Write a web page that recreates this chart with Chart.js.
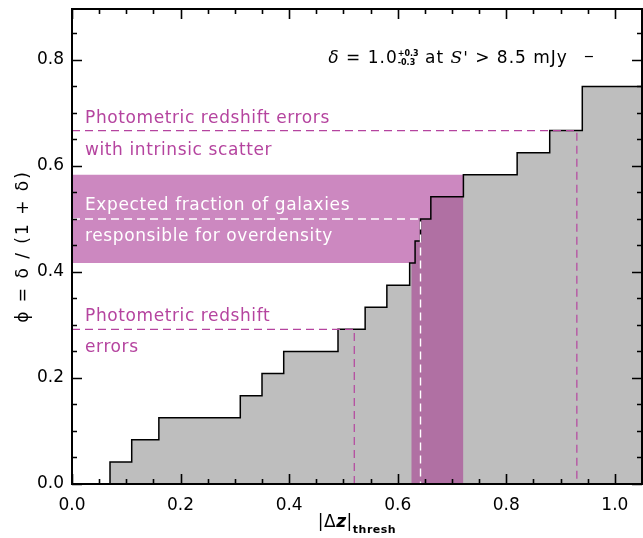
<!DOCTYPE html>
<html><head><meta charset="utf-8">
<script src="https://cdn.jsdelivr.net/npm/chart.js@4/dist/chart.umd.min.js"></script>
<style>html,body{margin:0;padding:0;background:#fff;}#wrap{width:643px;height:538px;}</style>
</head><body><div id="wrap"><canvas id="c" width="643" height="538"></canvas></div>
<script>
// ---- data ----
const stepX   = [0, 0.07, 0.11, 0.16, 0.31, 0.35, 0.39, 0.49, 0.54, 0.58, 0.622, 0.632, 0.642, 0.661, 0.721, 0.82, 0.88, 0.94, 1.05];
const stepPhi = [0, 0.0417, 0.0833, 0.125, 0.1667, 0.2083, 0.25, 0.2917, 0.3333, 0.375, 0.4167, 0.4583, 0.5, 0.5417, 0.5833, 0.625, 0.6667, 0.75, 0.75];
const bandPhi = [0.4167, 0.5833];      // expected fraction of galaxies
const bandX   = [0.625, 0.721];        // corresponding |dz| range
const photErr    = {x: 0.52, phi: 0.2917};
const photScat   = {x: 0.93, phi: 0.6667};
const expected   = {x: 0.642, phi: 0.5};
const xTickValues = [0, 0.2, 0.4, 0.6, 0.8, 1.0];
const xTickLabels = ['0.0', '0.2', '0.4', '0.6', '0.8', '1.0'];
const yTickValues = [0, 0.2, 0.4, 0.6, 0.8];
const yTickLabels = ['0.0', '0.2', '0.4', '0.6', '0.8'];
const xMinorStep = 0.05, yMinorStep = 0.05;
const xRange = [0, 1.05], yRange = [0, 0.896];
const notes = [
  {text: 'Photometric redshift errors', x: 0.024, y: 0.681, c: 'pink'},
  {text: 'with intrinsic scatter', x: 0.024, y: 0.621, c: 'pink'},
  {text: 'Expected fraction of galaxies', x: 0.024, y: 0.516, c: 'white'},
  {text: 'responsible for overdensity', x: 0.024, y: 0.458, c: 'white'},
  {text: 'Photometric redshift', x: 0.024, y: 0.308, c: 'pink'},
  {text: 'errors', x: 0.024, y: 0.249, c: 'pink'}
];
const legendAnchor = {x: 0.472, y: 0.795};

// ---- styles ----
const PINK = '#b5449f', LIGHT = '#cc88c0', DARK = '#b070a3', GREY = '#bebebe';
const FONT = 'DejaVu Sans';

function phiAt(x){ let v = stepPhi[0]; for (let i=0;i<stepX.length;i++){ if (stepX[i] <= x) v = stepPhi[i]; } return v; }
const stepPts = stepX.map((x,i)=>({x, y: stepPhi[i]}));
const bandPts = [{x: bandX[0], y: phiAt(bandX[0])}];
stepX.forEach((x,i)=>{ if (x > bandX[0] && x < bandX[1]) bandPts.push({x, y: stepPhi[i]}); });
bandPts.push({x: bandX[1], y: bandPts[bandPts.length-1].y});
function lShape(o){ return [{x: xRange[0], y: o.phi}, {x: o.x, y: o.phi}, {x: o.x, y: 0}]; }

const decor = {
  id: 'decor',
  afterDraw(chart){
    const ctx = chart.ctx, a = chart.chartArea, xs = chart.scales.x, ys = chart.scales.y;
    ctx.save();
    // frame
    ctx.strokeStyle = '#000'; ctx.lineWidth = 2;
    ctx.strokeRect(a.left, a.top, a.right - a.left, a.bottom - a.top);
    // ticks
    ctx.lineWidth = 1.6;
    ctx.beginPath();
    for (let v = xRange[0]; v <= xRange[1] + 1e-9; v += xMinorStep) {
      const major = Math.abs(v/0.2 - Math.round(v/0.2)) < 1e-6;
      const L = major ? 10 : 5, px = Math.round(xs.getPixelForValue(v)) + 0.5;
      ctx.moveTo(px, a.bottom); ctx.lineTo(px, a.bottom - L);
      ctx.moveTo(px, a.top); ctx.lineTo(px, a.top + L);
    }
    for (let v = yRange[0]; v <= yRange[1] + 1e-9; v += yMinorStep) {
      const major = Math.abs(v/0.2 - Math.round(v/0.2)) < 1e-6;
      const L = major ? 10 : 5, py = Math.round(ys.getPixelForValue(v)) + 0.5;
      ctx.moveTo(a.left, py); ctx.lineTo(a.left + L, py);
      ctx.moveTo(a.right, py); ctx.lineTo(a.right - L, py);
    }
    ctx.stroke();

    // annotations
    const nf = '17px "' + FONT + '"';
    ctx.font = nf;
    ctx.letterSpacing = '0.6px';
    ctx.textBaseline = 'alphabetic'; ctx.textAlign = 'left';
    notes.forEach(n => {
      ctx.fillStyle = n.c === 'pink' ? PINK : '#ffffff';
      ctx.fillText(n.text, xs.getPixelForValue(n.x), ys.getPixelForValue(n.y));
    });

    // legend-like label
    ctx.fillStyle = '#000';
    ctx.letterSpacing = '1px';
    let x = xs.getPixelForValue(legendAnchor.x), y = ys.getPixelForValue(legendAnchor.y);
    const put = (t, f, dy=0) => { ctx.font = f; ctx.fillText(t, x, y + dy); return ctx.measureText(t).width; };
    x += put('δ', 'italic ' + nf);
    x += put(' = 1.0', nf);
    ctx.letterSpacing = '0px';
    const w1 = put('+0.3', 'bold 8px "' + FONT + '"', -7);
    const w2 = put('-0.3', 'bold 8px "' + FONT + '"', 2);
    x += Math.max(w1, w2);
    ctx.letterSpacing = '1px';
    x += put(' at ', nf);
    x += put('S\'', 'italic 17px "DejaVu Serif"');
    x += put(' > 8.5 mJy', nf);
    ctx.lineWidth = 1.2; ctx.strokeStyle = '#000';
    ctx.beginPath(); ctx.moveTo(x + 17, y - 6); ctx.lineTo(x + 25, y - 6); ctx.stroke();

    // y title
    ctx.save();
    ctx.translate(28, (a.top + a.bottom)/2);
    ctx.rotate(-Math.PI/2);
    ctx.font = nf; ctx.textAlign = 'center'; ctx.letterSpacing = '2px';
    ctx.fillText('ϕ = δ / (1 + δ)', 0, 0);
    ctx.restore();

    // x title
    ctx.letterSpacing = '0.5px';
    const p1 = '|Δ', p2 = 'z', p3 = '|', sub = 'thresh';
    const zf = 'bold italic 17px "' + FONT + '"', sf = 'bold 11px "' + FONT + '"';
    ctx.font = nf; const a1 = ctx.measureText(p1).width, a3 = ctx.measureText(p3).width;
    ctx.font = zf; const a2 = ctx.measureText(p2).width;
    ctx.font = sf; const a4 = ctx.measureText(sub).width;
    let tx = (a.left + a.right)/2 - (a1 + a2 + a3 + a4)/2, ty = 527;
    ctx.textAlign = 'left';
    ctx.font = nf; ctx.fillText(p1, tx, ty); tx += a1;
    ctx.font = zf; ctx.fillText(p2, tx, ty); tx += a2;
    ctx.font = nf; ctx.fillText(p3, tx, ty); tx += a3;
    ctx.font = sf; ctx.fillText(sub, tx, ty + 6);
    ctx.restore();
  }
};

new Chart(document.getElementById('c'), {
  type: 'line',
  data: { datasets: [
    {data: [{x: xRange[0], y: bandPhi[1]}, {x: xRange[1], y: bandPhi[1]}], fill: {value: bandPhi[0]}, backgroundColor: LIGHT, borderWidth: 0, order: 10},
    {data: stepPts, stepped: true, fill: 'origin', backgroundColor: GREY, borderWidth: 0, order: 9},
    {data: bandPts, stepped: true, fill: 'origin', backgroundColor: DARK, borderWidth: 0, order: 8},
    {data: stepPts, stepped: true, fill: false, borderColor: '#000', borderWidth: 1.5, order: 4},
    {data: lShape(photErr), fill: false, borderColor: PINK, borderWidth: 1.2, borderDash: [8, 5], order: 2},
    {data: lShape(photScat), fill: false, borderColor: PINK, borderWidth: 1.2, borderDash: [8, 5], order: 2},
    {data: lShape(expected), fill: false, borderColor: '#ffffff', borderWidth: 1.4, borderDash: [8, 5], order: 2}
  ]},
  options: {
    responsive: false, animation: false, devicePixelRatio: 1,
    layout: {padding: {top: 9, right: 1, left: 0, bottom: 0}},
    plugins: {legend: {display: false}, tooltip: {enabled: false}},
    elements: {point: {radius: 0}, line: {tension: 0}},
    scales: {
      x: {type: 'linear', min: xRange[0], max: xRange[1],
          grid: {display: false, drawTicks: false}, border: {display: false},
          afterBuildTicks: s => { s.ticks = xTickValues.map(v => ({value: v})); },
          ticks: {padding: 11, color: '#000', font: {family: FONT, size: 17}, maxRotation: 0,
                  callback: (v) => xTickLabels[xTickValues.indexOf(v)]},
          afterFit: s => { s.height = 54; s.paddingLeft = 0; s.paddingRight = 0; s.paddingTop = 0; s.paddingBottom = 0; }},
      y: {type: 'linear', min: yRange[0], max: yRange[1],
          grid: {display: false, drawTicks: false}, border: {display: false},
          afterBuildTicks: s => { s.ticks = yTickValues.map(v => ({value: v})); },
          ticks: {padding: 8, color: '#000', font: {family: FONT, size: 17},
                  callback: (v) => yTickLabels[yTickValues.indexOf(v)]},
          afterFit: s => { s.width = 72; s.paddingTop = 0; s.paddingBottom = 0; s.paddingLeft = 0; s.paddingRight = 0; }}
    }
  },
  plugins: [decor]
});
</script></body></html>
